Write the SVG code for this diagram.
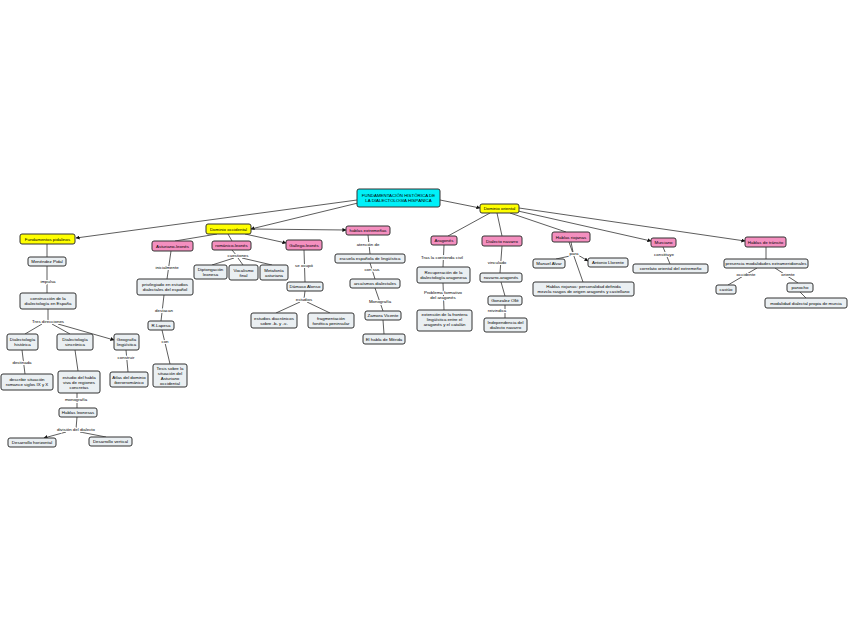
<svg xmlns="http://www.w3.org/2000/svg" width="848" height="638" viewBox="0 0 848 638">
<style>
text{font-family:"Liberation Sans",Arial,sans-serif;font-size:4.4px;fill:#000;text-anchor:middle}
.b{fill:#eaeff2;stroke:#333;stroke-width:1}
.p{fill:#f48fbf;stroke:#333;stroke-width:1}
.y{fill:#ffff00;stroke:#333;stroke-width:1}
.c{fill:#00f0f8;stroke:#333;stroke-width:1}
.l{stroke:#333;stroke-width:0.8;fill:none}
.a{stroke:#333;stroke-width:0.8;fill:none;marker-end:url(#ar)}
.t{stroke:#fff;stroke-width:2;paint-order:stroke}
</style>
<defs>
<marker id="ar" viewBox="0 0 10 10" refX="9" refY="5" markerWidth="5" markerHeight="5" orient="auto" markerUnits="strokeWidth"><path d="M0,0 L10,5 L0,10 z" fill="#111"/></marker>
</defs>
<rect width="848" height="638" fill="#fff"/>
<g id="connectors">
<path class="a" d="M357,200 L76,238"/>
<path class="a" d="M358,203 L251,229"/>
<path class="a" d="M440,200 L480,208"/>
<path class="l" d="M217,234 L175,241"/>
<path class="l" d="M228,234 L232,241"/>
<path class="a" d="M245,234 L286,243"/>
<path class="a" d="M251,229 L346,230"/>
<path class="l" d="M171,251 L167,279"/>
<path class="l" d="M164,295 L161,321"/>
<path class="l" d="M162,330 L170,364"/>
<path class="l" d="M232,250 L237,256"/>
<path class="l" d="M234,258 L212,265"/>
<path class="l" d="M238,258 L243,265"/>
<path class="l" d="M242,258 L272,265"/>
<path class="l" d="M304,250 L305,282"/>
<path class="l" d="M305,291 L304,299"/>
<path class="l" d="M300,302 L276,313"/>
<path class="l" d="M307,302 L330,313"/>
<path class="l" d="M368,235 L370,254"/>
<path class="l" d="M370,263 L375,279"/>
<path class="l" d="M375,288 L383,311"/>
<path class="l" d="M383,320 L384,334"/>
<path class="l" d="M490,213 L448,236"/>
<path class="l" d="M497,213 L502,236"/>
<path class="l" d="M510,213 L566,232"/>
<path class="a" d="M518,211 L651,241"/>
<path class="a" d="M519,208 L745,241"/>
<path class="l" d="M444,245 L443,267"/>
<path class="l" d="M443,283 L444,310"/>
<path class="l" d="M502,246 L500,273"/>
<path class="l" d="M501,282 L505,296"/>
<path class="l" d="M505,305 L505,318"/>
<path class="l" d="M571,242 L573,252"/>
<path class="l" d="M570,256 L556,259"/>
<path class="a" d="M578,255 L588,261"/>
<path class="l" d="M569,242 L583,282"/>
<path class="l" d="M663,247 L670,264"/>
<path class="l" d="M766,247 L766,259"/>
<path class="l" d="M757,268 L728,285"/>
<path class="l" d="M775,268 L798,283"/>
<path class="l" d="M800,292 L806,298"/>
<path class="l" d="M47,244 L47,257"/>
<path class="l" d="M47,266 L47,293"/>
<path class="l" d="M48,309 L48,321"/>
<path class="l" d="M42,324 L25,334"/>
<path class="l" d="M52,324 L70,334"/>
<path class="a" d="M58,324 L114,340"/>
<path class="l" d="M22,350 L25,374"/>
<path class="l" d="M75,350 L78,371"/>
<path class="l" d="M126,350 L128,372"/>
<path class="l" d="M77,393 L77,408"/>
<path class="l" d="M77,417 L76,429"/>
<path class="a" d="M66,432 L44,438"/>
<path class="l" d="M80,432 L106,437"/>
</g>
<g id="labels">
<text class="t" x="48" y="283">impulsa</text>
<text class="t" x="48" y="323">Tres direcciones</text>
<text class="t" x="22" y="364">destinada</text>
<text class="t" x="126" y="359">construir</text>
<text class="t" x="76" y="401">monografía</text>
<text class="t" x="76" y="431">división del dialecto</text>
<text class="t" x="167" y="269">inicialmente</text>
<text class="t" x="164" y="312">destacan</text>
<text class="t" x="165" y="343">con</text>
<text class="t" x="238" y="257">cuestiones</text>
<text class="t" x="304" y="267">se ocupó</text>
<text class="t" x="304" y="301">estudios</text>
<text class="t" x="368" y="246">atención de</text>
<text class="t" x="372" y="271">con sus</text>
<text class="t" x="380" y="303">Monografía</text>
<text class="t" x="442" y="259">Tras la contienda civil</text>
<text class="t" x="443" y="294">Problema formativo</text>
<text class="t" x="443" y="299">del aragonés</text>
<text class="t" x="497" y="264">vinculado</text>
<text class="t" x="497" y="312">reivindica</text>
<text class="t" x="574" y="255">para</text>
<text class="t" x="664" y="256">constituye</text>
<text class="t" x="746" y="276">occidente</text>
<text class="t" x="788" y="276">oriente</text>
</g>
<g id="root"><rect class="c" x="357" y="189" width="83" height="18" rx="2"/><text x="398.5" y="197">FUNDAMENTACIÓN  HISTÓRICA DE</text><text x="398.5" y="202">LA DIALECTOLOGÍA HISPÁNICA</text></g>
<g id="fund"><rect class="y" x="20" y="234" width="55" height="10" rx="2"/><text x="47.5" y="240.5">Fundamentos pidalinos</text></g>
<g id="docc"><rect class="y" x="206" y="224" width="45" height="10" rx="2"/><text x="228.5" y="230.5">Dominio occidental</text></g>
<g id="dori"><rect class="y" x="480" y="204" width="39" height="9" rx="2"/><text x="499.5" y="210">Dominio oriental</text></g>
<g id="ast"><rect class="p" x="152" y="241" width="41" height="10" rx="2"/><text x="172.5" y="247.5">Asturiano-leonés</text></g>
<g id="rom"><rect class="p" x="212" y="241" width="39" height="9" rx="2"/><text x="231.5" y="247">románico-leonés</text></g>
<g id="gal"><rect class="p" x="286" y="240" width="36" height="10" rx="2"/><text x="304" y="246.5">Gallego-leonés</text></g>
<g id="ext"><rect class="p" x="346" y="226" width="44" height="9" rx="2"/><text x="368" y="232">hablas extremeñas</text></g>
<g id="ara"><rect class="p" x="431" y="236" width="26" height="9" rx="2"/><text x="444" y="242">Aragonés</text></g>
<g id="nav"><rect class="p" x="482" y="236" width="40" height="10" rx="2"/><text x="502" y="242.5">Dialecto navarro</text></g>
<g id="rio"><rect class="p" x="552" y="232" width="38" height="10" rx="2"/><text x="571" y="238.5">Hablas riojanas</text></g>
<g id="mur"><rect class="p" x="651" y="238" width="25" height="9" rx="2"/><text x="663.5" y="244">Murciano</text></g>
<g id="tra"><rect class="p" x="745" y="237" width="41" height="10" rx="2"/><text x="765.5" y="243.5">Hablas de tránsito</text></g>
<g id="pidal"><rect class="b" x="28" y="257" width="38" height="9" rx="2"/><text x="47" y="263">Menéndez Pidal</text></g>
<g id="constr"><rect class="b" x="20" y="293" width="56" height="16" rx="2"/><text x="48" y="300">construcción de la</text><text x="48" y="305">dialectología en España</text></g>
<g id="dhist"><rect class="b" x="7" y="334" width="31" height="16" rx="2"/><text x="22.5" y="341">Dialectología</text><text x="22.5" y="346">histórica</text></g>
<g id="dsinc"><rect class="b" x="57" y="334" width="36" height="16" rx="2"/><text x="75" y="341">Dialectología</text><text x="75" y="346">sincrónica</text></g>
<g id="geo"><rect class="b" x="114" y="334" width="25" height="16" rx="2"/><text x="126.5" y="341">Geografía</text><text x="126.5" y="346">lingüística</text></g>
<g id="descr"><rect class="b" x="1" y="374" width="52" height="16" rx="2"/><text x="27" y="381">describir situación</text><text x="27" y="386">romance siglos IX y X</text></g>
<g id="estud"><rect class="b" x="58" y="371" width="42" height="22" rx="2"/><text x="79" y="378.5">estudio del habla</text><text x="79" y="383.5">viva de regiones</text><text x="79" y="388.5">concretas</text></g>
<g id="atlas"><rect class="b" x="110" y="372" width="38" height="15" rx="2"/><text x="129" y="378.5">Atlas del dominio</text><text x="129" y="383.5">iberorrománico</text></g>
<g id="hleon"><rect class="b" x="59" y="408" width="38" height="9" rx="2"/><text x="78" y="414">Hablas leonesas</text></g>
<g id="dhor"><rect class="b" x="8" y="438" width="48" height="9" rx="2"/><text x="32" y="444">Desarrollo horizontal</text></g>
<g id="dver"><rect class="b" x="89" y="437" width="43" height="9" rx="2"/><text x="110.5" y="443">Desarrollo vertical</text></g>
<g id="priv"><rect class="b" x="137" y="279" width="56" height="16" rx="2"/><text x="165" y="286">privilegiado en estudios</text><text x="165" y="291">dialectales del español</text></g>
<g id="lap"><rect class="b" x="148" y="321" width="26" height="9" rx="2"/><text x="161" y="327">R.Lapesa</text></g>
<g id="tesis"><rect class="b" x="153" y="364" width="34" height="23" rx="2"/><text x="170" y="369.5">Tesis sobre la</text><text x="170" y="374.5">situación del</text><text x="170" y="379.5">Asturiano</text><text x="170" y="384.5">occidental</text></g>
<g id="dipt"><rect class="b" x="194" y="265" width="33" height="14" rx="2"/><text x="210.5" y="271">Diptongación</text><text x="210.5" y="276">leonesa</text></g>
<g id="voc"><rect class="b" x="229" y="265" width="29" height="15" rx="2"/><text x="243.5" y="271.5">Vocalismo</text><text x="243.5" y="276.5">final</text></g>
<g id="meta"><rect class="b" x="260" y="265" width="28" height="15" rx="2"/><text x="274" y="271.5">Metafonía</text><text x="274" y="276.5">asturiana</text></g>
<g id="dam"><rect class="b" x="287" y="282" width="36" height="9" rx="2"/><text x="305" y="288">Dámaso Alonso</text></g>
<g id="diacr"><rect class="b" x="251" y="313" width="46" height="15" rx="2"/><text x="274" y="319.5">estudios diacrónicos</text><text x="274" y="324.5">sobre -b- y -v-</text></g>
<g id="frag"><rect class="b" x="308" y="313" width="46" height="15" rx="2"/><text x="331" y="319.5">fragmentación</text><text x="331" y="324.5">fonética peninsular</text></g>
<g id="esc"><rect class="b" x="335" y="254" width="70" height="9" rx="2"/><text x="370" y="260">escuela española de lingüística</text></g>
<g id="arc"><rect class="b" x="350" y="279" width="50" height="9" rx="2"/><text x="375" y="285">arcaísmos dialectales</text></g>
<g id="zam"><rect class="b" x="365" y="311" width="36" height="9" rx="2"/><text x="383" y="317">Zamora Vicente</text></g>
<g id="merida"><rect class="b" x="363" y="334" width="42" height="10" rx="2"/><text x="384" y="340.5">El habla de Mérida</text></g>
<g id="recup"><rect class="b" x="417" y="267" width="53" height="16" rx="2"/><text x="443.5" y="274">Recuperación de la</text><text x="443.5" y="279">dialectología aragonesa</text></g>
<g id="front"><rect class="b" x="417" y="310" width="55" height="21" rx="2"/><text x="444.5" y="316">extensión de la frontera</text><text x="444.5" y="321">lingüística entre el</text><text x="444.5" y="326">aragonés y el catalán</text></g>
<g id="navar"><rect class="b" x="480" y="273" width="42" height="9" rx="2"/><text x="501" y="279">navarro-aragonés</text></g>
<g id="gonz"><rect class="b" x="488" y="296" width="34" height="9" rx="2"/><text x="505" y="302">Gonzalez Ollé</text></g>
<g id="indep"><rect class="b" x="484" y="318" width="43" height="14" rx="2"/><text x="505.5" y="324">Independencia del</text><text x="505.5" y="329">dialecto navarro</text></g>
<g id="alvar"><rect class="b" x="533" y="259" width="32" height="9" rx="2"/><text x="549" y="265">Manuel Alvar</text></g>
<g id="llor"><rect class="b" x="588" y="258" width="40" height="9" rx="2"/><text x="608" y="264">Antonio Llorente</text></g>
<g id="hrioj"><rect class="b" x="533" y="282" width="101" height="14" rx="2"/><text x="583.5" y="288">Hablas riojanas: personalidad definida</text><text x="583.5" y="293">mezcla rasgos de origen aragonés y castellano</text></g>
<g id="corr"><rect class="b" x="633" y="264" width="75" height="9" rx="2"/><text x="670.5" y="270">correlato oriental del extremeño</text></g>
<g id="pres"><rect class="b" x="724" y="259" width="84" height="9" rx="2"/><text x="766" y="265">presencia modalidades extrameridionales</text></g>
<g id="cast"><rect class="b" x="716" y="285" width="20" height="9" rx="2"/><text x="726" y="291">castúo</text></g>
<g id="pan"><rect class="b" x="787" y="283" width="26" height="9" rx="2"/><text x="800" y="289">panocho</text></g>
<g id="modal"><rect class="b" x="765" y="298" width="82" height="10" rx="2"/><text x="806" y="304.5">modalidad dialectal propia de murcia</text></g>
</svg>
